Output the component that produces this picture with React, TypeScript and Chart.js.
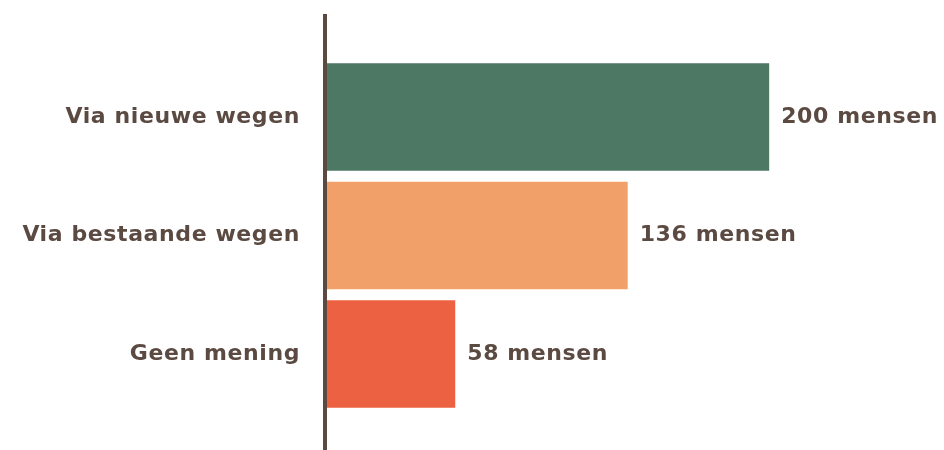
import React, { useEffect, useRef } from "react";
import { Chart, registerables } from "chart.js";

Chart.register(...registerables);

const categories = ["Via nieuwe wegen", "Via bestaande wegen", "Geen mening"];
const values = [200, 136, 58];
const barColors = ["#4c7864", "#f2a06a", "#ec6141"];
const unitLabel = "mensen";

const TEXT_COLOR = "#5b4a41";
const FONT_FAMILY = "'DejaVu Sans', sans-serif";
const FONT_SIZE = 22;
const LETTER_SPACING = "0.6px";

export default function App() {
  const ref = useRef<HTMLCanvasElement | null>(null);

  useEffect(() => {
    document.body.style.margin = "0";
    const ctx = ref.current;
    if (!ctx) return;

    const spacing = {
      id: "spacing",
      beforeDraw(chart: any) {
        (chart.ctx as any).letterSpacing = LETTER_SPACING;
      },
    };

    const axisLine = {
      id: "axisLine",
      afterDatasetsDraw(chart: any) {
        const c = chart.ctx;
        const x = chart.chartArea.left - 2;
        c.save();
        c.strokeStyle = TEXT_COLOR;
        c.lineWidth = 4;
        c.beginPath();
        c.moveTo(x, 14);
        c.lineTo(x, chart.height);
        c.stroke();
        c.restore();
      },
    };

    const valueLabels = {
      id: "valueLabels",
      afterDatasetsDraw(chart: any) {
        const c = chart.ctx;
        const meta = chart.getDatasetMeta(0);
        c.save();
        (c as any).letterSpacing = LETTER_SPACING;
        c.font = `bold ${FONT_SIZE}px ${FONT_FAMILY}`;
        c.fillStyle = TEXT_COLOR;
        c.textAlign = "left";
        c.textBaseline = "middle";
        meta.data.forEach((bar: any, i: number) => {
          c.fillText(`${values[i]} ${unitLabel}`, bar.x + 12, bar.y);
        });
        c.restore();
      },
    };

    const chart = new Chart(ctx, {
      type: "bar",
      data: {
        labels: categories,
        datasets: [
          {
            data: values,
            backgroundColor: barColors,
            borderWidth: 0,
            barPercentage: 0.907,
            categoryPercentage: 1,
          },
        ],
      },
      options: {
        indexAxis: "y",
        animation: false,
        responsive: false,
        maintainAspectRatio: false,
        layout: { padding: { top: 57.75, bottom: 36.75, right: 9, left: 0 } },
        plugins: {
          legend: { display: false },
          tooltip: { enabled: false },
        },
        scales: {
          x: {
            display: false,
            min: 0,
            max: 275,
          },
          y: {
            grid: { display: false, drawTicks: false },
            border: { display: false },
            ticks: {
              color: TEXT_COLOR,
              font: { family: FONT_FAMILY, size: FONT_SIZE, weight: "bold" },
              padding: 27,
            },
            afterFit(scale: any) {
              scale.width = 327;
              scale.paddingTop = 0;
              scale.paddingBottom = 0;
            },
          },
        },
      },
      plugins: [spacing, axisLine, valueLabels],
    });

    return () => chart.destroy();
  }, []);

  return (
    <div style={{ width: 944, height: 450, background: "#ffffff" }}>
      <canvas ref={ref} width={944} height={450} style={{ display: "block" }} />
    </div>
  );
}
